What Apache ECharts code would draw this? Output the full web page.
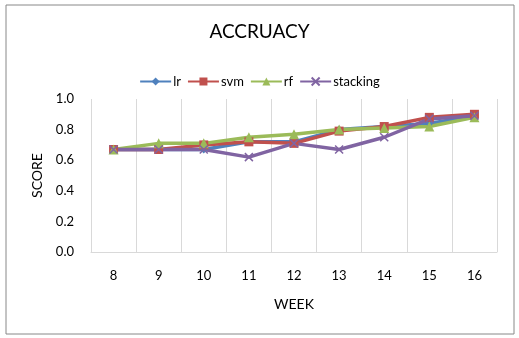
<!DOCTYPE html>
<html><head><meta charset="utf-8">
<script src="https://cdn.jsdelivr.net/npm/echarts@6/dist/echarts.min.js"></script>
<style>html,body{margin:0;padding:0;background:#fff}#c{width:519px;height:338px}</style>
</head><body><div id="c"></div>
<script>
const weeks = ['8','9','10','11','12','13','14','15','16'];
const lr = [0.67,0.67,0.67,0.72,0.72,0.80,0.82,0.84,0.89];
const svm = [0.67,0.67,0.70,0.72,0.71,0.79,0.82,0.88,0.90];
const rf = [0.67,0.71,0.71,0.75,0.77,0.80,0.81,0.82,0.88];
const stacking = [0.67,0.67,0.67,0.62,0.71,0.67,0.75,0.87,0.89];
const yTicks = [0,0.2,0.4,0.6,0.8,1.0];

const FONT = 'Lato, "Open Sans", sans-serif';
const chart = echarts.init(document.getElementById('c'));
const cross = 'path://M0,0L10,10M10,0L0,10';
function s(name, data, color, symbol, size, extra){
  return Object.assign({
    name, type:'line', data, symbol, symbolSize:size,
    lineStyle:{color, width:3.5},
    itemStyle:{color},
    emphasis:{disabled:true}
  }, extra||{});
}
chart.setOption({
  animation:false,
  textStyle:{fontFamily:FONT},
  graphic:[{type:'rect', shape:{x:6,y:5,width:508,height:329}, style:{fill:'none', stroke:'#888', lineWidth:1}, z:-1}],
  title:{text:'ACCRUACY', left:'center', top:17, textStyle:{fontFamily:FONT, fontSize:19, fontWeight:'normal', color:'#000'}},
  legend:{top:70, left:'center', itemWidth:31, itemHeight:10, itemGap:6,
    textStyle:{fontFamily:FONT, fontSize:13, color:'#000', padding:[0,0,0,-3]},
    data:['lr','svm','rf','stacking']},
  grid:{left:91, right:22, top:99, bottom:86},
  xAxis:{type:'category', data:weeks, boundaryGap:true, name:'WEEK', nameLocation:'middle', nameGap:45,
    nameTextStyle:{fontFamily:FONT, fontSize:14, color:'#000'},
    axisLine:{lineStyle:{color:'#D9D9D9'}}, axisTick:{show:false},
    axisLabel:{fontFamily:FONT, fontSize:13, color:'#000', margin:17},
    splitLine:{show:true, lineStyle:{color:'#D9D9D9'}}},
  yAxis:{type:'value', min:yTicks[0], max:yTicks[yTicks.length-1], interval:0.2, name:'SCORE', nameLocation:'middle', nameGap:47,
    nameTextStyle:{fontFamily:FONT, fontSize:14, color:'#000'},
    axisLine:{show:false}, axisTick:{show:false}, splitLine:{show:false},
    axisLabel:{fontFamily:FONT, fontSize:13, color:'#000', margin:17, formatter:v=>v.toFixed(1)}},
  series:[
    s('lr', lr, '#4F81BD', 'diamond', 8),
    s('svm', svm, '#C0504D', 'rect', 9),
    s('rf', rf, '#9BBB59', 'triangle', 10),
    s('stacking', stacking, '#8064A2', cross, 8, {itemStyle:{color:'#8064A2', borderColor:'#8064A2', borderWidth:1.5}})
  ]
});
</script></body></html>
